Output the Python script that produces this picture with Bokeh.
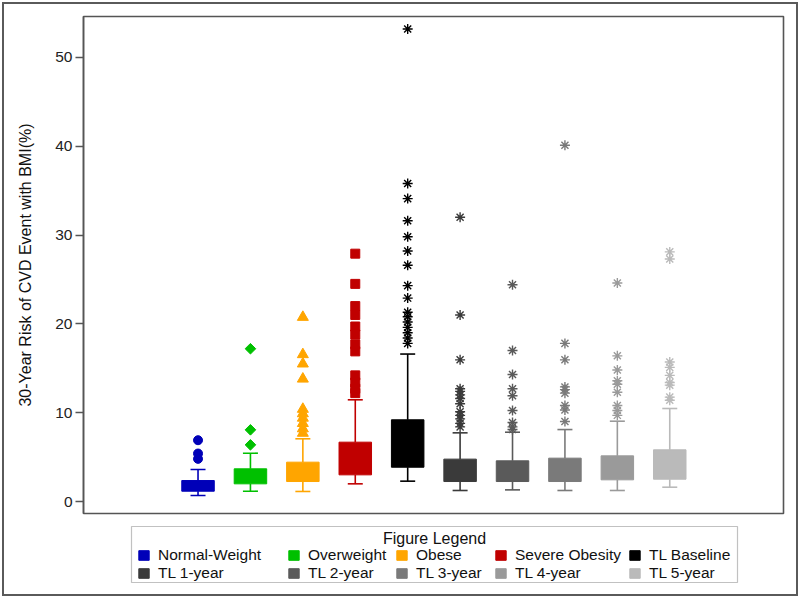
import math
from bokeh.plotting import figure
from bokeh.layouts import column
from bokeh.models import (Range1d, FixedTicker, Legend, LegendItem, Label, ColumnDataSource,
                          BoxAnnotation)
from bokeh.embed import file_html
from bokeh.resources import INLINE

categories = ["Normal-Weight", "Overweight", "Obese", "Severe Obesity", "TL Baseline",
              "TL 1-year", "TL 2-year", "TL 3-year", "TL 4-year", "TL 5-year"]
colors = ["#0000b8", "#00c000", "#ffa500", "#c00000", "#000000",
          "#3a3a3a", "#5a5a5a", "#7a7a7a", "#9a9a9a", "#bababa"]

q1 = [1.16, 1.99, 2.25, 3.00, 3.86, 2.25, 2.25, 2.25, 2.44, 2.51]
q3 = [2.36, 3.68, 4.43, 6.68, 9.20, 4.77, 4.58, 4.88, 5.14, 5.82]
whisker_low = [0.68, 1.16, 1.13, 1.99, 2.29, 1.24, 1.31, 1.24, 1.24, 1.61]
whisker_high = [3.60, 5.44, 7.06, 11.45, 16.6, 7.73, 7.80, 8.10, 9.04, 10.47]

out_normal = [6.9, 5.4, 4.8]
out_overweight = [17.2, 8.07, 6.38]
out_obese = [20.75, 16.55, 15.5, 13.8, 10.4, 9.9, 9.4, 8.8, 8.2, 7.7]
out_severe = [27.9, 24.5, 22.0, 21.0, 19.7, 18.8, 17.7, 16.9, 14.2, 13.4, 12.7, 12.2]
out_baseline = [53.2, 35.8, 34.1, 31.6, 29.8, 28.2, 26.6, 24.3, 22.9, 21.3, 20.8, 20.2,
                19.6, 19.0, 18.4, 17.8]
out_tl1 = [32.0, 21.0, 15.95, 12.7, 12.4, 12.0, 11.6, 11.0, 10.1, 9.7, 9.3, 8.8, 8.4]
out_tl2 = [24.4, 17.0, 14.3, 12.7, 11.9, 10.25, 8.9, 8.4, 8.1]
out_tl3 = [40.1, 17.8, 15.95, 12.9, 12.6, 12.2, 10.8, 10.3, 9.0]
out_tl4 = [24.6, 16.4, 14.8, 13.6, 13.2, 12.3, 10.8, 10.25, 9.7]
out_tl5 = [28.1, 27.3, 15.7, 15.1, 14.2, 13.4, 13.1, 11.75, 11.4]
outliers = [out_normal, out_overweight, out_obese, out_severe, out_baseline,
            out_tl1, out_tl2, out_tl3, out_tl4, out_tl5]

y_ticks = [0, 10, 20, 30, 40, 50]
legend_title = "Figure Legend"

xpos = [i + 1 for i in range(len(categories))]
FONT = "Liberation Sans"

src = ColumnDataSource(dict(x=xpos, q1=q1, q3=q3, lo=whisker_low, hi=whisker_high,
                            color=colors, cat=categories))

W = 792
BL, BR = 79, 13  # shared side borders so both frames line up (frame = 700 px)

# ---------------- main plot ----------------
p = figure(width=W, height=514, output_backend="svg", toolbar_location=None,
           x_range=Range1d(-1.185, 12.17), y_range=Range1d(-1.35, 54.6),
           x_axis_location=None,
           min_border_left=BL, min_border_right=BR, min_border_top=12, min_border_bottom=5)
p.background_fill_color = "white"
p.border_fill_color = "white"
p.outline_line_color = "#555555"
p.outline_line_width = 1.6
p.xgrid.visible = False
p.ygrid.visible = False

ya = p.yaxis[0]
ya.ticker = FixedTicker(ticks=y_ticks)
ya.axis_label = "30-Year Risk of CVD Event with BMI(%)"
ya.axis_label_text_font = FONT
ya.axis_label_text_font_size = "16px"
ya.axis_label_text_font_style = "normal"
ya.axis_label_text_color = "#111111"
ya.axis_label_standoff = 18
ya.major_label_text_font = FONT
ya.major_label_text_font_size = "15.5px"
ya.major_label_text_color = "#222222"
ya.major_label_standoff = 3
ya.major_tick_out = 8
ya.major_tick_in = 0
ya.major_tick_line_color = "#555555"
ya.major_tick_line_width = 1.5
ya.minor_tick_line_color = None
ya.axis_line_color = "#555555"
ya.axis_line_width = 1.5

p.segment(x0="x", x1="x", y0="q3", y1="hi", line_color="color", line_width=1.6, source=src)
p.segment(x0="x", x1="x", y0="lo", y1="q1", line_color="color", line_width=1.6, source=src)
p.scatter(x="x", y="hi", marker="dash", size=15, line_color="color", line_width=1.6, source=src)
p.scatter(x="x", y="lo", marker="dash", size=15, line_color="color", line_width=1.6, source=src)
p.vbar(x="x", width=0.62, bottom="q1", top="q3", fill_color="color",
       line_color="color", line_width=1, source=src)

marker_spec = [("circle", 9, 0), ("square", 7.5, math.pi / 4), ("triangle", 11, 0),
               ("square", 9, 0)] + [("asterisk", 10, 0)] * 6
for i, vals in enumerate(outliers):
    m, s, a = marker_spec[i]
    xs = [xpos[i]] * len(vals)
    if m == "asterisk":
        p.scatter(x=xs, y=vals, marker=m, size=s, line_color=colors[i], line_width=1.4)
    else:
        p.scatter(x=xs, y=vals, marker=m, size=s, angle=a, fill_color=colors[i],
                  line_color=colors[i])

# ---------------- legend panel (pixel-unit coordinates) ----------------
LW, LH = W - BL - BR, 76
pl = figure(width=W, height=LH, output_backend="svg", toolbar_location=None,
            x_range=Range1d(0, LW), y_range=Range1d(0, LH),
            x_axis_location=None, y_axis_location=None,
            min_border_left=BL, min_border_right=BR, min_border_top=0, min_border_bottom=0)
pl.background_fill_color = "white"
pl.border_fill_color = "white"
pl.outline_line_color = None
pl.xgrid.visible = False
pl.ygrid.visible = False
lbox = pl.vbar(x="x", width=0.62, bottom="q1", top="q3", fill_color="color",
               line_color="color", source=src)
lbox.visible = False

box_l, box_r, box_b, box_t = 48, 654, 12, 68
pl.add_layout(BoxAnnotation(left=box_l, right=box_r, bottom=box_b, top=box_t,
                            fill_alpha=0, line_color="#333333", line_width=1.2))

col_offsets = [6, 156, 264, 363, 497]
ncol = 5
for c in range(ncol):
    idx = [c, c + ncol]
    lg = Legend(items=[LegendItem(label=categories[k], renderers=[lbox], index=k) for k in idx],
                orientation="vertical", location=(box_l + col_offsets[c], box_b),
                label_text_font=FONT, label_text_font_size="15.5px",
                label_text_color="#111111", glyph_width=13, glyph_height=12,
                label_height=15, label_standoff=8, spacing=0, padding=0, margin=0,
                border_line_color=None, background_fill_alpha=0,
                inactive_fill_alpha=0)
    pl.add_layout(lg)

pl.add_layout(Label(x=(box_l + box_r) / 2, y=box_t - 12, text=legend_title,
                    text_font=FONT, text_font_size="16px", text_align="center",
                    text_baseline="middle", text_color="#111111"))

layout = column(p, pl, spacing=0)
layout.styles = {"border": "2px solid #5a5a5a", "margin": "2px"}

html = file_html(layout, INLINE)
html = html.replace("<body>", '<body style="overflow:hidden">', 1)
open("out.html", "w").write(html)
